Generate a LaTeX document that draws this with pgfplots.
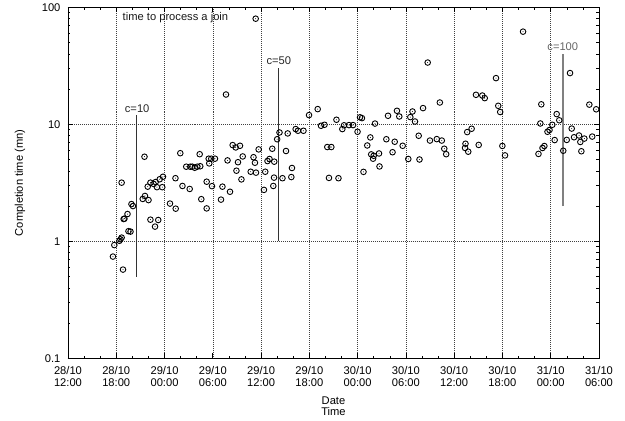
\documentclass[border=0pt]{standalone}
\usepackage{fontspec}
\setmainfont{Liberation Sans}
\usepackage{pgfplots}
\pgfplotsset{compat=1.18}

% open circle with a dot in the middle, like gnuplot's points
\pgfdeclareplotmark{odot}{%
  \pgfpathcircle{\pgfpointorigin}{\pgfplotmarksize}\pgfusepathqstroke
  \pgfpathcircle{\pgfpointorigin}{0.5pt}\pgfusepathqfill}

% hours since 28/10 12:00, completion time in minutes
\pgfplotstableread{
x y
5.59 0.740
5.76 0.928
6.40 1.01
6.53 1.04
6.67 1.075
6.67 3.17
6.84 0.573
6.92 1.55
7.02 1.56
7.40 1.71
7.52 1.22
7.77 1.21
7.89 2.08
8.08 2.00
9.51 5.28
9.29 2.30
9.57 2.44
10.01 2.25
9.91 2.93
10.25 1.53
10.25 3.17
10.65 3.09
10.90 3.21
10.82 1.335
11.06 2.90
11.22 1.52
11.40 3.39
11.72 2.90
11.81 3.56
12.68 2.10
13.39 1.90
13.36 3.46
13.96 5.66
14.23 2.97
14.70 4.34
15.20 4.34
15.45 4.34
15.75 4.25
16.07 4.34
16.44 4.38
15.13 2.80
16.37 5.55
16.57 2.29
17.24 3.23
17.24 1.91
17.49 5.08
17.81 5.08
18.27 5.08
17.56 4.63
17.90 2.96
19.02 2.27
19.20 2.93
19.64 17.96
19.83 4.91
20.14 2.65
20.47 6.64
20.85 6.34
21.38 6.55
21.72 5.31
21.13 4.74
20.94 4.01
21.56 3.38
22.71 3.93
23.06 5.23
23.24 4.69
23.37 3.86
23.33 79.9
23.70 6.10
24.52 3.93
24.36 2.75
25.52 2.97
25.39 6.18
25.64 4.79
24.80 4.85
25.05 5.05
26.00 7.45
26.29 8.51
27.31 8.35
27.10 5.91
26.66 3.46
27.76 3.54
27.84 4.23
25.61 3.50
28.30 9.10
28.59 8.80
29.27 8.80
29.96 11.98
31.04 13.48
31.45 9.71
31.88 9.90
32.23 6.39
32.73 6.39
32.44 3.48
33.62 3.46
33.37 10.93
34.10 9.10
34.31 9.80
34.93 9.84
35.43 9.84
35.99 8.63
36.30 11.47
36.54 11.29
38.16 10.14
37.58 7.72
37.20 6.59
37.69 5.53
38.00 5.38
37.92 5.08
38.66 5.63
36.73 3.92
38.72 4.36
39.78 11.82
39.57 7.45
40.34 5.77
40.61 7.09
40.89 13.04
41.18 11.66
41.60 6.55
42.30 5.05
42.55 11.52
42.82 12.86
43.13 10.56
43.59 7.98
43.69 5.00
44.13 13.75
44.71 33.7
44.99 7.26
45.84 7.47
46.46 7.26
46.22 15.35
46.77 6.18
47.01 5.55
49.35 6.28
49.41 6.82
49.75 5.83
49.62 8.58
50.17 9.16
51.05 6.66
50.71 17.86
51.50 17.61
51.80 16.73
53.20 24.8
53.48 14.38
53.72 12.73
53.99 6.53
54.32 5.42
56.56 61.9
58.48 5.58
58.98 6.27
59.21 6.52
58.71 10.16
58.83 14.81
59.60 8.63
59.85 8.94
60.20 9.90
60.49 7.33
60.74 12.22
61.06 10.82
61.56 5.94
61.99 7.35
62.40 27.4
62.61 9.19
62.90 7.75
63.52 8.02
63.68 7.06
63.81 5.88
64.18 7.55
65.16 7.85
64.80 14.72
65.65 13.43
}\joins

\begin{document}
\begin{tikzpicture}[font=\fontsize{11.2}{11.5}\selectfont]
\begin{axis}[
    scale only axis,
    width=531bp, height=351bp,
    ymode=log,
    xmin=0, xmax=66,
    ymin=0.1, ymax=100,
    xtick={0,6,...,66},
    xticklabels={28/10\\12:00,28/10\\18:00,29/10\\00:00,29/10\\06:00,
      29/10\\12:00,29/10\\18:00,30/10\\00:00,30/10\\06:00,
      30/10\\12:00,30/10\\18:00,31/10\\00:00,31/10\\06:00},
    minor x tick num=2,
    ytick={0.1,1,10,100},
    yticklabels={0.1,1,10,100},
    x tick label style={align=center, yshift=-5bp},
    y tick label style={xshift=-4bp},
    major tick length=5bp,
    minor tick length=2.5bp,
    every tick/.style={black, line width=0.6pt},
    axis line style={line width=0.8pt},
    grid=major,
    major grid style={black!75, line width=0.5pt, dash pattern=on 0.7pt off 1.3pt},
    xlabel={Date\\Time},
    xlabel style={align=center, at={(axis description cs:0.5,-0.1368)}, anchor=center},
    ylabel={Completion time (mn)},
    ylabel style={at={(axis description cs:-0.0904,0.5)}, anchor=center},
    clip=false,
    ]
\addplot[only marks, mark=odot, mark size=2.8bp, line width=0.9pt, black] table {\joins};
% reconfiguration instants
\addplot[black!80, line width=1.2pt] coordinates {(8.54,0.5) (8.54,12)};
\addplot[black!80, line width=1.2pt] coordinates {(26.14,1) (26.14,30)};
\addplot[black!50, line width=1.5pt] coordinates {(61.53,2) (61.53,40)};
\node[black!85] at (axis cs:8.6,13.6) {c=10};
\node[black!85] at (axis cs:26.2,34.8) {c=50};
\node[black!60] at (axis cs:61.5,45.8) {c=100};
\node[black!90] at (axis cs:13.36,81.1) {time to process a join};
\path (rel axis cs:-0.128,-0.1766) rectangle (rel axis cs:1.049,1.017);
\end{axis}
\end{tikzpicture}
\end{document}
